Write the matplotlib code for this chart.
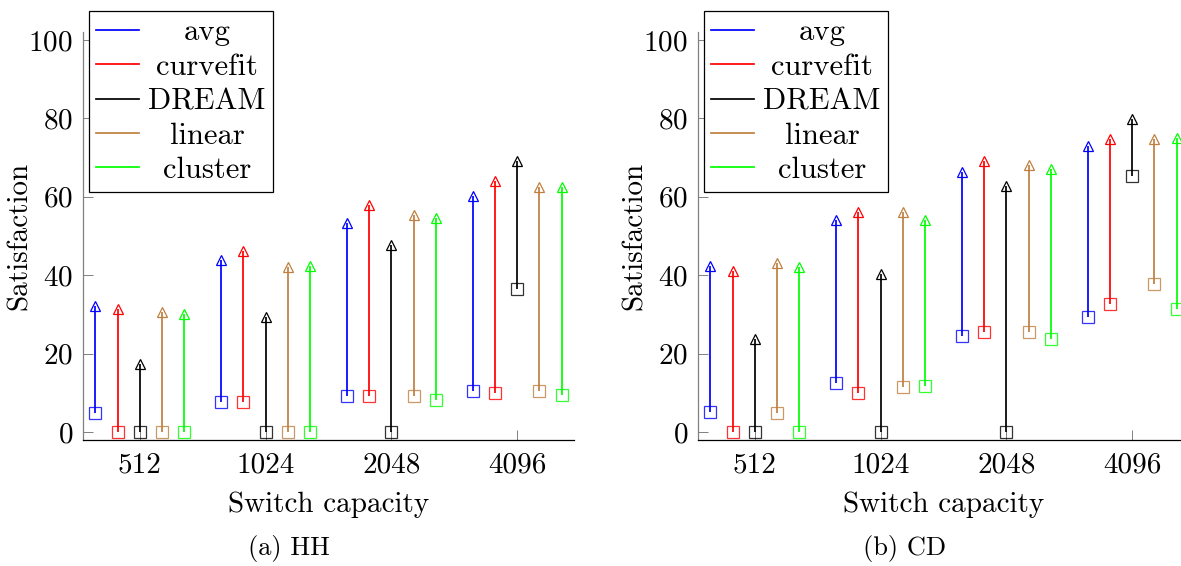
import matplotlib
matplotlib.use("Agg")
import matplotlib.pyplot as plt
import numpy as np

plt.rcParams["font.family"] = ["cmr10", "DejaVu Serif"]
plt.rcParams["axes.formatter.use_mathtext"] = True
plt.rcParams["mathtext.fontset"] = "cm"

CAPACITIES = ["512", "1024", "2048", "4096"]
METHODS = ["avg", "curvefit", "DREAM", "linear", "cluster"]
COLORS = ["#0000ff", "#ff0000", "#000000", "#bf8040", "#00ff00"]

# min / max satisfaction, one row per method, one column per capacity
HH_MIN = {
    "avg": [5.0, 7.6, 9.3, 10.5],
    "curvefit": [0, 7.6, 9.1, 9.9],
    "DREAM": [0, 0, 0, 36.6],
    "linear": [0, 0, 9.3, 10.5],
    "cluster": [0, 0, 8.3, 9.5],
}
HH_MAX = {
    "avg": [32.2, 43.8, 53.4, 60.1],
    "curvefit": [31.4, 46.1, 57.8, 64.0],
    "DREAM": [17.4, 29.3, 47.6, 69.0],
    "linear": [30.6, 42.1, 55.3, 62.4],
    "cluster": [30.0, 42.4, 54.5, 62.4],
}
CD_MIN = {
    "avg": [5.2, 12.5, 24.4, 29.3],
    "curvefit": [0, 9.9, 25.6, 32.6],
    "DREAM": [0, 0, 0, 65.2],
    "linear": [5.0, 11.4, 25.6, 37.7],
    "cluster": [0, 11.7, 23.8, 31.5],
}
CD_MAX = {
    "avg": [42.3, 54.0, 66.2, 72.9],
    "curvefit": [41.1, 56.0, 69.0, 74.7],
    "DREAM": [23.7, 40.4, 62.8, 79.7],
    "linear": [43.2, 56.0, 68.1, 74.7],
    "cluster": [42.0, 54.0, 67.2, 75.0],
}

W, H = 1181, 566
OFFSET = 0.177
FS = 21


def draw_panel(ax, mins, maxs):
    x = np.arange(len(CAPACITIES))
    for i, (m, c) in enumerate(zip(METHODS, COLORS)):
        xs = x + (i - 2) * OFFSET
        lo = np.array(mins[m])
        hi = np.array(maxs[m])
        ax.vlines(xs, lo, hi, color=c, linewidth=1.25, zorder=2)
        ax.plot(xs, lo, "s", markersize=8, markerfacecolor="none",
                markeredgecolor=c, markeredgewidth=0.9, alpha=0.8, zorder=3,
                clip_on=False)
        ax.plot(xs, hi, "^", markersize=6.5, markerfacecolor="none",
                markeredgecolor=c, markeredgewidth=0.9, zorder=3, clip_on=False)
        ax.plot([], [], color=c, linewidth=1.25, label=m)

    ax.set_xlim(-0.455, 3.45)
    ax.set_ylim(-2, 102)
    ax.set_xticks(x, CAPACITIES)
    ax.set_yticks([0, 20, 40, 60, 80, 100])
    ax.spines["top"].set_visible(False)
    ax.spines["right"].set_visible(False)
    ax.spines["left"].set_color("#808080")
    ax.spines["left"].set_linewidth(0.9)
    ax.spines["bottom"].set_color("black")
    ax.spines["bottom"].set_linewidth(0.9)
    ax.tick_params(axis="both", direction="in", length=7, width=0.7,
                   color="#808080", labelsize=FS)
    ax.tick_params(axis="y", pad=7)
    ax.tick_params(axis="x", pad=9)
    ax.set_xlabel("Switch capacity", fontsize=FS, labelpad=9)
    ax.set_ylabel("Satisfaction", fontsize=FS)
    ax.yaxis.set_label_coords(-0.101, 0.5)

    leg = ax.legend(loc="upper left", bbox_to_anchor=(0.012, 1.051),
                    borderaxespad=0, fontsize=22, fancybox=False,
                    edgecolor="black", framealpha=1, handlelength=1.4,
                    handletextpad=0.3, labelspacing=0.23, borderpad=0.25)
    leg.get_frame().set_linewidth(0.9)
    return leg


fig = plt.figure(figsize=(W / 100, H / 100), dpi=100)
ax1 = fig.add_axes([82.7 / W, 126 / H, 491 / W, 408 / H])
ax2 = fig.add_axes([697.7 / W, 126 / H, 491 / W, 408 / H])

legs = [draw_panel(ax1, HH_MIN, HH_MAX), draw_panel(ax2, CD_MIN, CD_MAX)]

# centre the legend entries in their column, like the original
fig.canvas.draw()
renderer = fig.canvas.get_renderer()
for leg in legs:
    widths = [t.get_window_extent(renderer).width for t in leg.get_texts()]
    shift = max(widths)
    for t, w in zip(leg.get_texts(), widths):
        t.set_position(((shift - w) / 2, 0))

fig.text(289 / W, 1 - 549 / H, "(a) HH", ha="center", va="center", fontsize=19)
fig.text(905 / W, 1 - 549 / H, "(b) CD", ha="center", va="center", fontsize=19)

fig.savefig("out.png", dpi=100)
